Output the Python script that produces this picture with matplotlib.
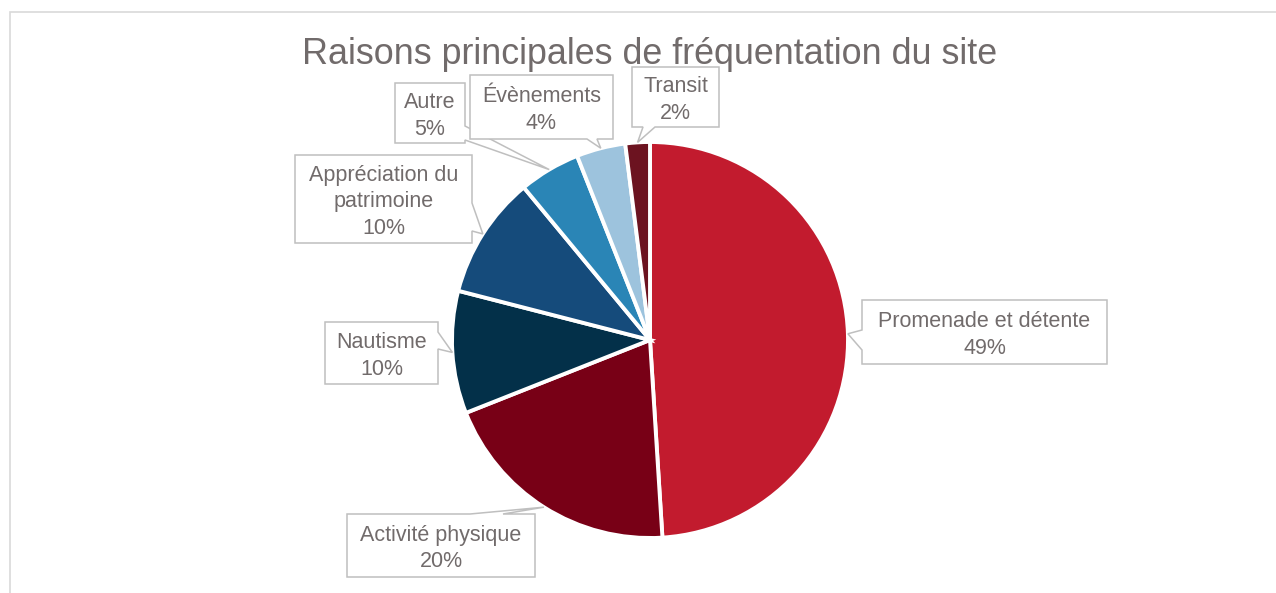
import numpy as np
import matplotlib.pyplot as plt
from matplotlib.patches import Polygon, Rectangle

W, H = 1276, 593

categories = ["Promenade et détente", "Activité physique", "Nautisme",
              "Appréciation du\npatrimoine", "Autre", "Évènements", "Transit"]
shares = [49, 20, 10, 10, 5, 4, 2]
colors = ["#C21B2E", "#780016", "#033049", "#154B7B", "#2A85B6", "#9DC3DD", "#6C1320"]

title = "Raisons principales de fréquentation du site"
text_color = "#716B6B"
box_color = "#BFBFBF"

# callout layout in pixel coords (top-left origin): box, notch base points
layout = [
    ((862, 300, 1107, 364), [(862, 330), (862, 350)]),
    ((347, 514, 535, 577), [(470, 514), (503, 514)]),
    ((325, 322, 438, 384), [(438, 332), (438, 349)]),
    ((295, 155, 472, 243), [(472, 203), (472, 231)]),
    ((395, 83, 465, 143), [(465, 126), (465, 140)]),
    ((470, 75, 613, 139), [(587, 139), (597, 139)]),
    ((632, 67, 719, 127), [(643, 127), (655, 127)]),
]

cx, cy, R = 650, 340, 198


def py(y):
    return H - y


fig = plt.figure(figsize=(W / 100, H / 100), dpi=100)
ax = fig.add_axes([0, 0, 1, 1])

wedges, _ = ax.pie(shares, colors=colors, startangle=90, counterclock=False,
                   center=(cx, py(cy)), radius=R,
                   wedgeprops=dict(edgecolor="white", linewidth=2.8))
ax.set_xlim(0, W)
ax.set_ylim(0, H)
ax.set_aspect("auto")
ax.axis("off")

# outer chart border
ax.add_patch(Rectangle((10, -20), W + 20, py(12) + 20, fill=False,
                       edgecolor="#D9D9D9", linewidth=1.2))

ax.text(650, py(55), title, ha="center", va="center", fontsize=25.8,
        color=text_color, family="Liberation Sans")


def callout(box, base, tip):
    x0, y0, x1, y1 = box
    (bx0, by0), (bx1, by1) = base
    # find the edge that holds the notch
    if bx0 == bx1 == x1:
        pts = [(x0, y0), (x1, y0), (x1, by0), tip, (x1, by1), (x1, y1), (x0, y1)]
    elif bx0 == bx1 == x0:
        pts = [(x0, y0), (x1, y0), (x1, y1), (x0, y1), (x0, by1), tip, (x0, by0)]
    elif by0 == by1 == y0:
        pts = [(x0, y0), (bx0, y0), tip, (bx1, y0), (x1, y0), (x1, y1), (x0, y1)]
    else:
        pts = [(x0, y0), (x1, y0), (x1, y1), (bx1, y1), tip, (bx0, y1), (x0, y1)]
    return [(x, py(y)) for x, y in pts]


for w, cat, val, (box, base) in zip(wedges, categories, shares, layout):
    mid = np.deg2rad((w.theta1 + w.theta2) / 2)
    tip = (cx + R * np.cos(mid), cy - R * np.sin(mid))
    ax.add_patch(Polygon(callout(box, base, tip), closed=True, facecolor="white",
                         edgecolor=box_color, linewidth=1.1, zorder=3))
    tx = (box[0] + box[2]) / 2
    ty = (box[1] + box[3]) / 2 + 3
    ax.text(tx, py(ty), f"{cat}\n{val}%", ha="center", va="center",
            fontsize=15.5, color=text_color, family="Liberation Sans",
            linespacing=1.35, zorder=4)

fig.savefig("out.png", dpi=100, facecolor="white")
